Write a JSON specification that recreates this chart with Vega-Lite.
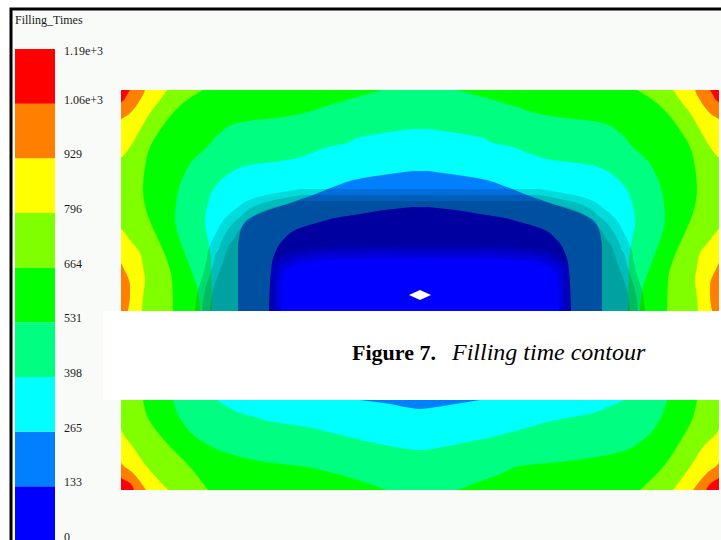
{
  "$schema": "https://vega.github.io/schema/vega-lite/v6.json",
  "width": 712,
  "height": 540,
  "autosize": {"type": "none"},
  "padding": {"left": 11, "top": 9, "right": 0, "bottom": 0},
  "background": "#ffffff",
  "config": {"view": {"stroke": "#000000", "strokeWidth": 3, "fill": "#f9fbf9"}},
  "datasets": {
    "bins": [
      {"b": 0, "lo": 0, "hi": 132.7},
      {"b": 1, "lo": 132.7, "hi": 265.4},
      {"b": 2, "lo": 265.4, "hi": 398.1},
      {"b": 3, "lo": 398.1, "hi": 530.8},
      {"b": 4, "lo": 530.8, "hi": 663.5},
      {"b": 5, "lo": 663.5, "hi": 796.2},
      {"b": 6, "lo": 796.2, "hi": 928.9},
      {"b": 7, "lo": 928.9, "hi": 1061.6},
      {"b": 8, "lo": 1061.6, "hi": 1194.3}
    ],
    "ticks": [
      {"v": 1194.3, "label": "1.19e+3"},
      {"v": 1061.6, "label": "1.06e+3"},
      {"v": 928.9, "label": "929"},
      {"v": 796.2, "label": "796"},
      {"v": 663.5, "label": "664"},
      {"v": 530.8, "label": "531"},
      {"v": 398.1, "label": "398"},
      {"v": 265.4, "label": "265"},
      {"v": 132.7, "label": "133"},
      {"v": 0, "label": "0"}
    ],
    "regions": [
      {"b": 8, "p": "t", "Y": 0, "xl": 0, "xr": 598},
      {"b": 8, "p": "t", "Y": 221, "xl": 0, "xr": 598},
      {"b": 8, "p": "b", "Y": 310, "xl": 0, "xr": 598},
      {"b": 8, "p": "b", "Y": 400, "xl": 0, "xr": 598},

      {"b": 7, "p": "t", "Y": 0, "xl": 9, "xr": 589},
      {"b": 7, "p": "t", "Y": 5, "xl": 6, "xr": 592},
      {"b": 7, "p": "t", "Y": 10, "xl": 3, "xr": 595},
      {"b": 7, "p": "t", "Y": 13, "xl": 0, "xr": 598},
      {"b": 7, "p": "t", "Y": 221, "xl": 0, "xr": 598},
      {"b": 7, "p": "b", "Y": 310, "xl": 0, "xr": 598},
      {"b": 7, "p": "b", "Y": 387, "xl": 0, "xr": 598},
      {"b": 7, "p": "b", "Y": 393, "xl": 9, "xr": 590},
      {"b": 7, "p": "b", "Y": 400, "xl": 13, "xr": 585},

      {"b": 6, "p": "t", "Y": 0, "xl": 24, "xr": 574},
      {"b": 6, "p": "t", "Y": 5, "xl": 22, "xr": 576},
      {"b": 6, "p": "t", "Y": 10, "xl": 19, "xr": 579},
      {"b": 6, "p": "t", "Y": 15, "xl": 16, "xr": 582},
      {"b": 6, "p": "t", "Y": 20, "xl": 12, "xr": 586},
      {"b": 6, "p": "t", "Y": 25, "xl": 7, "xr": 591},
      {"b": 6, "p": "t", "Y": 30, "xl": 0, "xr": 598},
      {"b": 6, "p": "t", "Y": 172, "xl": 0, "xr": 598},
      {"b": 6, "p": "t", "Y": 177, "xl": 2, "xr": 596},
      {"b": 6, "p": "t", "Y": 185, "xl": 6, "xr": 592},
      {"b": 6, "p": "t", "Y": 195, "xl": 9, "xr": 589},
      {"b": 6, "p": "t", "Y": 205, "xl": 9, "xr": 589},
      {"b": 6, "p": "t", "Y": 221, "xl": 7, "xr": 591},
      {"b": 6, "p": "b", "Y": 310, "xl": 0, "xr": 598},
      {"b": 6, "p": "b", "Y": 372, "xl": 0, "xr": 598},
      {"b": 6, "p": "b", "Y": 383, "xl": 12, "xr": 586},
      {"b": 6, "p": "b", "Y": 400, "xl": 25, "xr": 572},

      {"b": 5, "p": "t", "Y": 0, "xl": 46, "xr": 552},
      {"b": 5, "p": "t", "Y": 10, "xl": 39, "xr": 559},
      {"b": 5, "p": "t", "Y": 23, "xl": 29, "xr": 569},
      {"b": 5, "p": "t", "Y": 40, "xl": 19, "xr": 579},
      {"b": 5, "p": "t", "Y": 57, "xl": 9, "xr": 589},
      {"b": 5, "p": "t", "Y": 65, "xl": 3, "xr": 595},
      {"b": 5, "p": "t", "Y": 68, "xl": 0, "xr": 598},
      {"b": 5, "p": "t", "Y": 138, "xl": 0, "xr": 598},
      {"b": 5, "p": "t", "Y": 142, "xl": 3, "xr": 595},
      {"b": 5, "p": "t", "Y": 150, "xl": 9, "xr": 589},
      {"b": 5, "p": "t", "Y": 163, "xl": 19, "xr": 579},
      {"b": 5, "p": "t", "Y": 177, "xl": 22, "xr": 576},
      {"b": 5, "p": "t", "Y": 190, "xl": 24, "xr": 574},
      {"b": 5, "p": "t", "Y": 207, "xl": 22, "xr": 576},
      {"b": 5, "p": "t", "Y": 221, "xl": 21, "xr": 577},
      {"b": 5, "p": "b", "Y": 310, "xl": 0, "xr": 598},
      {"b": 5, "p": "b", "Y": 338, "xl": 0, "xr": 598},
      {"b": 5, "p": "b", "Y": 357, "xl": 12, "xr": 582},
      {"b": 5, "p": "b", "Y": 377, "xl": 26, "xr": 569},
      {"b": 5, "p": "b", "Y": 400, "xl": 47, "xr": 552},

      {"b": 4, "p": "t", "Y": 0, "xl": 82, "xr": 516},
      {"b": 4, "p": "t", "Y": 10, "xl": 66, "xr": 532},
      {"b": 4, "p": "t", "Y": 23, "xl": 52, "xr": 546},
      {"b": 4, "p": "t", "Y": 40, "xl": 39, "xr": 559},
      {"b": 4, "p": "t", "Y": 57, "xl": 29, "xr": 569},
      {"b": 4, "p": "t", "Y": 77, "xl": 24, "xr": 574},
      {"b": 4, "p": "t", "Y": 100, "xl": 22, "xr": 576},
      {"b": 4, "p": "t", "Y": 123, "xl": 26, "xr": 572},
      {"b": 4, "p": "t", "Y": 147, "xl": 36, "xr": 562},
      {"b": 4, "p": "t", "Y": 170, "xl": 46, "xr": 552},
      {"b": 4, "p": "t", "Y": 190, "xl": 51, "xr": 547},
      {"b": 4, "p": "t", "Y": 221, "xl": 52, "xr": 546},
      {"b": 4, "p": "b", "Y": 310, "xl": 22, "xr": 576},
      {"b": 4, "p": "b", "Y": 330, "xl": 28, "xr": 571},
      {"b": 4, "p": "b", "Y": 350, "xl": 43, "xr": 560},
      {"b": 4, "p": "b", "Y": 377, "xl": 69, "xr": 542},
      {"b": 4, "p": "b", "Y": 400, "xl": 87, "xr": 519},

      {"b": 3, "p": "t", "Y": 0, "xl": 262, "xr": 336},
      {"b": 3, "p": "t", "Y": 7, "xl": 236, "xr": 362},
      {"b": 3, "p": "t", "Y": 17, "xl": 202, "xr": 396},
      {"b": 3, "p": "t", "Y": 24, "xl": 179, "xr": 419},
      {"b": 3, "p": "t", "Y": 28, "xl": 154, "xr": 444},
      {"b": 3, "p": "t", "Y": 30, "xl": 134, "xr": 464},
      {"b": 3, "p": "t", "Y": 33, "xl": 116, "xr": 482},
      {"b": 3, "p": "t", "Y": 43, "xl": 99, "xr": 499},
      {"b": 3, "p": "t", "Y": 57, "xl": 86, "xr": 512},
      {"b": 3, "p": "t", "Y": 70, "xl": 72, "xr": 526},
      {"b": 3, "p": "t", "Y": 87, "xl": 62, "xr": 536},
      {"b": 3, "p": "t", "Y": 107, "xl": 56, "xr": 542},
      {"b": 3, "p": "t", "Y": 130, "xl": 54, "xr": 544},
      {"b": 3, "p": "t", "Y": 150, "xl": 59, "xr": 539},
      {"b": 3, "p": "t", "Y": 177, "xl": 69, "xr": 529},
      {"b": 3, "p": "t", "Y": 197, "xl": 76, "xr": 522},
      {"b": 3, "p": "t", "Y": 221, "xl": 79, "xr": 519},
      {"b": 3, "p": "b", "Y": 310, "xl": 52, "xr": 546},
      {"b": 3, "p": "b", "Y": 333, "xl": 62, "xr": 537},
      {"b": 3, "p": "b", "Y": 350, "xl": 79, "xr": 522},
      {"b": 3, "p": "b", "Y": 363, "xl": 106, "xr": 496},
      {"b": 3, "p": "b", "Y": 368, "xl": 124, "xr": 469},
      {"b": 3, "p": "b", "Y": 372, "xl": 144, "xr": 439},
      {"b": 3, "p": "b", "Y": 376, "xl": 179, "xr": 399},
      {"b": 3, "p": "b", "Y": 383, "xl": 212, "xr": 382},
      {"b": 3, "p": "b", "Y": 393, "xl": 246, "xr": 355},
      {"b": 3, "p": "b", "Y": 400, "xl": 266, "xr": 336},

      {"b": 2, "p": "t", "Y": 39, "xl": 291, "xr": 307},
      {"b": 2, "p": "t", "Y": 43, "xl": 262, "xr": 336},
      {"b": 2, "p": "t", "Y": 47, "xl": 239, "xr": 359},
      {"b": 2, "p": "t", "Y": 53, "xl": 226, "xr": 372},
      {"b": 2, "p": "t", "Y": 57, "xl": 207, "xr": 391},
      {"b": 2, "p": "t", "Y": 63, "xl": 191, "xr": 407},
      {"b": 2, "p": "t", "Y": 70, "xl": 167, "xr": 431},
      {"b": 2, "p": "t", "Y": 75, "xl": 129, "xr": 469},
      {"b": 2, "p": "t", "Y": 80, "xl": 114, "xr": 484},
      {"b": 2, "p": "t", "Y": 85, "xl": 106, "xr": 492},
      {"b": 2, "p": "t", "Y": 100, "xl": 92, "xr": 506},
      {"b": 2, "p": "t", "Y": 117, "xl": 86, "xr": 512},
      {"b": 2, "p": "t", "Y": 133, "xl": 84, "xr": 514},
      {"b": 2, "p": "t", "Y": 150, "xl": 87, "xr": 511},
      {"b": 2, "p": "t", "Y": 170, "xl": 90, "xr": 508},
      {"b": 2, "p": "t", "Y": 221, "xl": 91, "xr": 507},
      {"b": 2, "p": "b", "Y": 310, "xl": 96, "xr": 504},
      {"b": 2, "p": "b", "Y": 317, "xl": 107, "xr": 487},
      {"b": 2, "p": "b", "Y": 323, "xl": 119, "xr": 472},
      {"b": 2, "p": "b", "Y": 328, "xl": 137, "xr": 447},
      {"b": 2, "p": "b", "Y": 332, "xl": 152, "xr": 427},
      {"b": 2, "p": "b", "Y": 337, "xl": 186, "xr": 409},
      {"b": 2, "p": "b", "Y": 342, "xl": 207, "xr": 391},
      {"b": 2, "p": "b", "Y": 347, "xl": 228, "xr": 372},
      {"b": 2, "p": "b", "Y": 352, "xl": 249, "xr": 347},
      {"b": 2, "p": "b", "Y": 357, "xl": 274, "xr": 322},
      {"b": 2, "p": "b", "Y": 360, "xl": 294, "xr": 304},

      {"b": 1, "p": "t", "Y": 81, "xl": 291, "xr": 307},
      {"b": 1, "p": "t", "Y": 84, "xl": 269, "xr": 329},
      {"b": 1, "p": "t", "Y": 88, "xl": 242, "xr": 356},
      {"b": 1, "p": "t", "Y": 97, "xl": 212, "xr": 386},
      {"b": 1, "p": "t", "Y": 103, "xl": 197, "xr": 401},
      {"b": 1, "p": "t", "Y": 113, "xl": 169, "xr": 429},
      {"b": 1, "p": "t", "Y": 122, "xl": 142, "xr": 456},
      {"b": 1, "p": "t", "Y": 130, "xl": 126, "xr": 472},
      {"b": 1, "p": "t", "Y": 143, "xl": 119, "xr": 479},
      {"b": 1, "p": "t", "Y": 160, "xl": 117, "xr": 481},
      {"b": 1, "p": "t", "Y": 221, "xl": 117, "xr": 481},
      {"b": 1, "p": "b", "Y": 310, "xl": 239, "xr": 359},
      {"b": 1, "p": "b", "Y": 314, "xl": 269, "xr": 334},
      {"b": 1, "p": "b", "Y": 317, "xl": 284, "xr": 316},
      {"b": 1, "p": "b", "Y": 319, "xl": 297, "xr": 301},

      {"b": 0, "p": "t", "Y": 117, "xl": 291, "xr": 307},
      {"b": 0, "p": "t", "Y": 120, "xl": 264, "xr": 334},
      {"b": 0, "p": "t", "Y": 124, "xl": 239, "xr": 359},
      {"b": 0, "p": "t", "Y": 128, "xl": 214, "xr": 384},
      {"b": 0, "p": "t", "Y": 132, "xl": 199, "xr": 399},
      {"b": 0, "p": "t", "Y": 138, "xl": 179, "xr": 419},
      {"b": 0, "p": "t", "Y": 150, "xl": 162, "xr": 436},
      {"b": 0, "p": "t", "Y": 163, "xl": 154, "xr": 444},
      {"b": 0, "p": "t", "Y": 180, "xl": 150, "xr": 448},
      {"b": 0, "p": "t", "Y": 221, "xl": 148, "xr": 450}
    ],
    "shade": [
      {"s": "A", "side": "L", "Y": 99, "xa": 179, "xb": 299},
      {"s": "A", "side": "L", "Y": 107, "xa": 137, "xb": 299},
      {"s": "A", "side": "L", "Y": 121, "xa": 112, "xb": 299},
      {"s": "A", "side": "L", "Y": 145, "xa": 94, "xb": 299},
      {"s": "A", "side": "L", "Y": 168, "xa": 86, "xb": 299},
      {"s": "A", "side": "L", "Y": 169, "xa": 86, "xb": 219},
      {"s": "A", "side": "L", "Y": 172, "xa": 85, "xb": 184},
      {"s": "A", "side": "L", "Y": 177, "xa": 84, "xb": 169},
      {"s": "A", "side": "L", "Y": 185, "xa": 82, "xb": 162},
      {"s": "A", "side": "L", "Y": 200, "xa": 77, "xb": 160},
      {"s": "A", "side": "L", "Y": 221, "xa": 74, "xb": 160},
      {"s": "A", "side": "R", "Y": 99, "xa": 299, "xb": 419},
      {"s": "A", "side": "R", "Y": 107, "xa": 299, "xb": 461},
      {"s": "A", "side": "R", "Y": 121, "xa": 299, "xb": 486},
      {"s": "A", "side": "R", "Y": 145, "xa": 299, "xb": 504},
      {"s": "A", "side": "R", "Y": 168, "xa": 299, "xb": 512},
      {"s": "A", "side": "R", "Y": 169, "xa": 379, "xb": 512},
      {"s": "A", "side": "R", "Y": 172, "xa": 414, "xb": 513},
      {"s": "A", "side": "R", "Y": 177, "xa": 429, "xb": 514},
      {"s": "A", "side": "R", "Y": 185, "xa": 436, "xb": 516},
      {"s": "A", "side": "R", "Y": 200, "xa": 438, "xb": 521},
      {"s": "A", "side": "R", "Y": 221, "xa": 438, "xb": 524},
      {"s": "B", "side": "L", "Y": 105, "xa": 179, "xb": 299},
      {"s": "B", "side": "L", "Y": 113, "xa": 142, "xb": 299},
      {"s": "B", "side": "L", "Y": 127, "xa": 119, "xb": 299},
      {"s": "B", "side": "L", "Y": 150, "xa": 101, "xb": 299},
      {"s": "B", "side": "L", "Y": 162, "xa": 96, "xb": 299},
      {"s": "B", "side": "L", "Y": 163, "xa": 95, "xb": 214},
      {"s": "B", "side": "L", "Y": 166, "xa": 94, "xb": 181},
      {"s": "B", "side": "L", "Y": 171, "xa": 93, "xb": 166},
      {"s": "B", "side": "L", "Y": 178, "xa": 91, "xb": 158},
      {"s": "B", "side": "L", "Y": 190, "xa": 87, "xb": 155},
      {"s": "B", "side": "L", "Y": 200, "xa": 84, "xb": 155},
      {"s": "B", "side": "L", "Y": 221, "xa": 81, "xb": 155},
      {"s": "B", "side": "R", "Y": 105, "xa": 299, "xb": 419},
      {"s": "B", "side": "R", "Y": 113, "xa": 299, "xb": 456},
      {"s": "B", "side": "R", "Y": 127, "xa": 299, "xb": 479},
      {"s": "B", "side": "R", "Y": 150, "xa": 299, "xb": 497},
      {"s": "B", "side": "R", "Y": 162, "xa": 299, "xb": 502},
      {"s": "B", "side": "R", "Y": 163, "xa": 384, "xb": 503},
      {"s": "B", "side": "R", "Y": 166, "xa": 417, "xb": 504},
      {"s": "B", "side": "R", "Y": 171, "xa": 432, "xb": 505},
      {"s": "B", "side": "R", "Y": 178, "xa": 440, "xb": 507},
      {"s": "B", "side": "R", "Y": 190, "xa": 443, "xb": 511},
      {"s": "B", "side": "R", "Y": 200, "xa": 443, "xb": 514},
      {"s": "B", "side": "R", "Y": 221, "xa": 443, "xb": 517},
      {"s": "C", "side": "L", "Y": 111, "xa": 179, "xb": 299},
      {"s": "C", "side": "L", "Y": 119, "xa": 147, "xb": 299},
      {"s": "C", "side": "L", "Y": 133, "xa": 125, "xb": 299},
      {"s": "C", "side": "L", "Y": 155, "xa": 108, "xb": 299},
      {"s": "C", "side": "L", "Y": 156, "xa": 107, "xb": 299},
      {"s": "C", "side": "L", "Y": 157, "xa": 107, "xb": 209},
      {"s": "C", "side": "L", "Y": 160, "xa": 106, "xb": 179},
      {"s": "C", "side": "L", "Y": 165, "xa": 104, "xb": 164},
      {"s": "C", "side": "L", "Y": 172, "xa": 102, "xb": 154},
      {"s": "C", "side": "L", "Y": 180, "xa": 99, "xb": 150},
      {"s": "C", "side": "L", "Y": 200, "xa": 92, "xb": 150},
      {"s": "C", "side": "L", "Y": 221, "xa": 89, "xb": 150},
      {"s": "C", "side": "R", "Y": 111, "xa": 299, "xb": 419},
      {"s": "C", "side": "R", "Y": 119, "xa": 299, "xb": 451},
      {"s": "C", "side": "R", "Y": 133, "xa": 299, "xb": 473},
      {"s": "C", "side": "R", "Y": 155, "xa": 299, "xb": 490},
      {"s": "C", "side": "R", "Y": 156, "xa": 299, "xb": 491},
      {"s": "C", "side": "R", "Y": 157, "xa": 389, "xb": 491},
      {"s": "C", "side": "R", "Y": 160, "xa": 419, "xb": 492},
      {"s": "C", "side": "R", "Y": 165, "xa": 434, "xb": 494},
      {"s": "C", "side": "R", "Y": 172, "xa": 444, "xb": 496},
      {"s": "C", "side": "R", "Y": 180, "xa": 448, "xb": 499},
      {"s": "C", "side": "R", "Y": 200, "xa": 448, "xb": 506},
      {"s": "C", "side": "R", "Y": 221, "xa": 448, "xb": 509}
    ]
  },
  "layer": [
    {
      "layer": [
        {
          "data": {"name": "bins"},
          "mark": {"type": "rect"},
          "encoding": {
            "x": {"datum": 0, "type": "quantitative", "scale": {"domain": [0, 1], "range": [4, 44], "zero": false, "nice": false}, "axis": null},
            "x2": {"datum": 1},
            "y": {"field": "lo", "type": "quantitative", "scale": {"domain": [0, 1194.3], "range": [532, 40], "zero": false, "nice": false}, "axis": null},
            "y2": {"field": "hi"},
            "color": {"field": "b", "type": "nominal", "scale": {"domain": [0, 1, 2, 3, 4, 5, 6, 7, 8], "range": ["#0000ff", "#0080ff", "#00ffff", "#00ff80", "#00ff00", "#80ff00", "#ffff00", "#ff8000", "#ff0000"]}, "legend": null}
          }
        },
        {
          "data": {"name": "ticks"},
          "transform": [{"filter": "datum.v < 1100"}],
          "mark": {"type": "text", "align": "left", "baseline": "alphabetic", "dx": 9, "font": "Liberation Serif", "fontSize": 12, "color": "#1a1a1a"},
          "encoding": {
            "x": {"datum": 1, "type": "quantitative", "scale": {"domain": [0, 1], "range": [4, 44], "zero": false, "nice": false}, "axis": null},
            "y": {"field": "v", "type": "quantitative", "scale": {"domain": [0, 1194.3], "range": [532, 40], "zero": false, "nice": false}, "axis": null},
            "text": {"field": "label"}
          }
        },
        {
          "data": {"name": "ticks"},
          "transform": [{"filter": "datum.v >= 1100"}],
          "mark": {"type": "text", "align": "left", "baseline": "alphabetic", "dx": 9, "dy": 6, "font": "Liberation Serif", "fontSize": 12, "color": "#1a1a1a"},
          "encoding": {
            "x": {"datum": 1, "type": "quantitative", "scale": {"domain": [0, 1], "range": [4, 44], "zero": false, "nice": false}, "axis": null},
            "y": {"field": "v", "type": "quantitative", "scale": {"domain": [0, 1194.3], "range": [532, 40], "zero": false, "nice": false}, "axis": null},
            "text": {"field": "label"}
          }
        },
        {
          "data": {"values": [{"t": "Filling_Times"}]},
          "mark": {"type": "text", "align": "left", "baseline": "alphabetic", "font": "Liberation Serif", "fontSize": 12, "color": "#1a1a1a"},
          "encoding": {
            "x": {"datum": 0, "type": "quantitative", "scale": {"domain": [0, 1], "range": [4, 44], "zero": false, "nice": false}, "axis": null},
            "y": {"datum": 1255, "type": "quantitative", "scale": {"domain": [0, 1194.3], "range": [532, 40], "zero": false, "nice": false}, "axis": null},
            "text": {"field": "t"}
          }
        }
      ]
    },
    {
      "layer": [
        {
          "data": {"name": "regions"},
          "encoding": {
            "y": {"field": "Y", "type": "quantitative", "scale": {"domain": [0, 400], "range": [81, 481], "zero": false, "nice": false}, "axis": null},
            "x": {"field": "xl", "type": "quantitative", "stack": null, "scale": {"domain": [0, 598], "range": [110, 708], "zero": false, "nice": false}, "axis": null},
            "x2": {"field": "xr"},
            "detail": {"field": "p", "type": "nominal"},
            "color": {"field": "b", "type": "nominal", "scale": {"domain": [0, 1, 2, 3, 4, 5, 6, 7, 8], "range": ["#0000ff", "#0080ff", "#00ffff", "#00ff80", "#00ff00", "#80ff00", "#ffff00", "#ff8000", "#ff0000"]}, "legend": null}
          },
          "layer": [
            {"transform": [{"filter": "datum.b == 8"}], "mark": {"type": "area", "orient": "horizontal", "interpolate": "monotone"}},
            {"transform": [{"filter": "datum.b == 7"}], "mark": {"type": "area", "orient": "horizontal", "interpolate": "monotone"}},
            {"transform": [{"filter": "datum.b == 6"}], "mark": {"type": "area", "orient": "horizontal", "interpolate": "monotone"}},
            {"transform": [{"filter": "datum.b == 5"}], "mark": {"type": "area", "orient": "horizontal", "interpolate": "monotone"}},
            {"transform": [{"filter": "datum.b == 4"}], "mark": {"type": "area", "orient": "horizontal", "interpolate": "monotone"}},
            {"transform": [{"filter": "datum.b == 3"}], "mark": {"type": "area", "orient": "horizontal", "interpolate": "monotone"}},
            {"transform": [{"filter": "datum.b == 2"}], "mark": {"type": "area", "orient": "horizontal", "interpolate": "monotone"}},
            {"transform": [{"filter": "datum.b == 1"}], "mark": {"type": "area", "orient": "horizontal", "interpolate": "monotone"}},
            {"transform": [{"filter": "datum.b == 0"}], "mark": {"type": "area", "orient": "horizontal", "interpolate": "monotone"}}
          ]
        },
        {
          "data": {"name": "shade"},
          "mark": {"type": "area", "orient": "horizontal", "interpolate": "monotone", "color": "#000000", "opacity": 0.14},
          "encoding": {
            "y": {"field": "Y", "type": "quantitative", "scale": {"domain": [0, 400], "range": [81, 481], "zero": false, "nice": false}, "axis": null},
            "x": {"field": "xa", "type": "quantitative", "stack": null, "scale": {"domain": [0, 598], "range": [110, 708], "zero": false, "nice": false}, "axis": null},
            "x2": {"field": "xb"},
            "detail": [{"field": "s", "type": "nominal"}, {"field": "side", "type": "nominal"}]
          }
        },
        {
          "data": {"values": [{"gx": 299, "gy": 205}]},
          "mark": {"type": "point", "shape": "M-1,0L0,-0.45L1,0L0,0.45Z", "filled": true, "color": "#ffffff", "opacity": 1, "size": 484},
          "encoding": {
            "x": {"field": "gx", "type": "quantitative", "scale": {"domain": [0, 598], "range": [110, 708], "zero": false, "nice": false}, "axis": null},
            "y": {"field": "gy", "type": "quantitative", "scale": {"domain": [0, 400], "range": [81, 481], "zero": false, "nice": false}, "axis": null}
          }
        },
        {
          "data": {"values": [{}]},
          "mark": {"type": "rect", "color": "#ffffff"},
          "encoding": {
            "x": {"datum": -18, "type": "quantitative", "scale": {"domain": [0, 598], "range": [110, 708], "zero": false, "nice": false}, "axis": null},
            "x2": {"datum": 600},
            "y": {"datum": 221, "type": "quantitative", "scale": {"domain": [0, 400], "range": [81, 481], "zero": false, "nice": false}, "axis": null},
            "y2": {"datum": 310}
          }
        },
        {
          "data": {"values": [{"t": "Figure 7."}]},
          "mark": {"type": "text", "align": "left", "baseline": "alphabetic", "font": "Liberation Serif", "fontWeight": "bold", "fontSize": 22, "color": "#000000"},
          "encoding": {
            "x": {"datum": 231, "type": "quantitative", "scale": {"domain": [0, 598], "range": [110, 708], "zero": false, "nice": false}, "axis": null},
            "y": {"datum": 270, "type": "quantitative", "scale": {"domain": [0, 400], "range": [81, 481], "zero": false, "nice": false}, "axis": null},
            "text": {"field": "t"}
          }
        },
        {
          "data": {"values": [{"t": "Filling time contour"}]},
          "mark": {"type": "text", "align": "left", "baseline": "alphabetic", "font": "Liberation Serif", "fontStyle": "italic", "fontSize": 24, "color": "#000000"},
          "encoding": {
            "x": {"datum": 331, "type": "quantitative", "scale": {"domain": [0, 598], "range": [110, 708], "zero": false, "nice": false}, "axis": null},
            "y": {"datum": 270, "type": "quantitative", "scale": {"domain": [0, 400], "range": [81, 481], "zero": false, "nice": false}, "axis": null},
            "text": {"field": "t"}
          }
        }
      ]
    }
  ],
  "resolve": {"scale": {"x": "independent", "y": "independent"}}
}
